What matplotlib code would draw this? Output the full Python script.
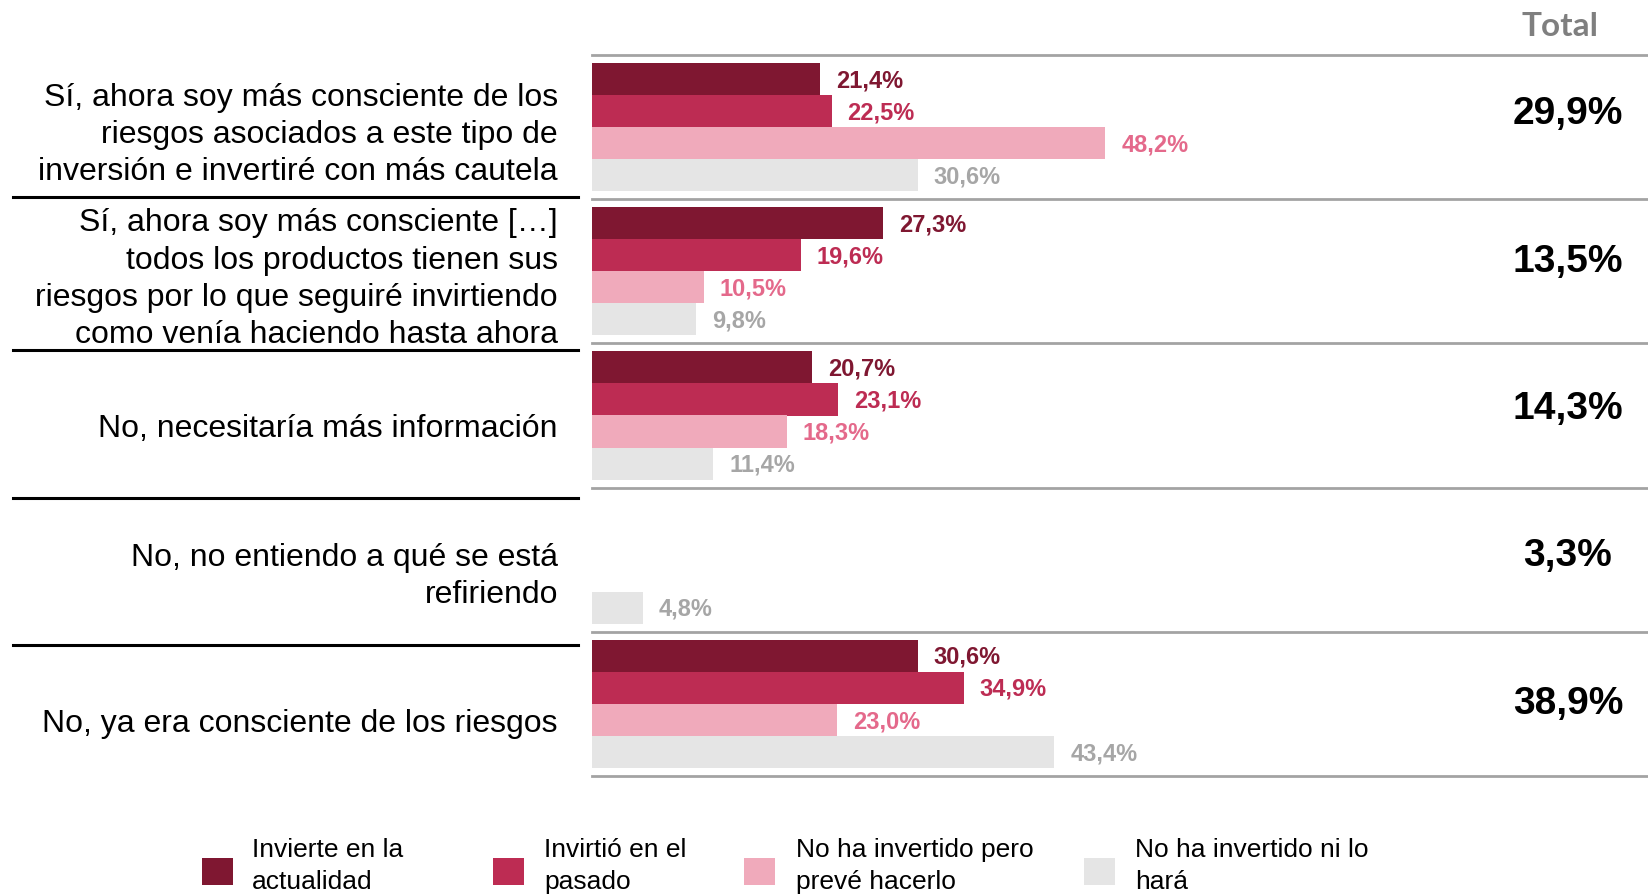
import matplotlib
matplotlib.use('Agg')
import matplotlib.pyplot as plt
import matplotlib.transforms as mtransforms
from matplotlib.lines import Line2D
from matplotlib.patches import Rectangle
import numpy as np

plt.rcParams['font.family'] = ['Liberation Sans', 'DejaVu Sans']

# Survey answers (one row per answer) and the share of each investor profile
categories = [
    'Sí, ahora soy más consciente de los\nriesgos asociados a este tipo de\ninversión e invertiré con más cautela',
    'Sí, ahora soy más consciente […]\ntodos los productos tienen sus\nriesgos por lo que seguiré invirtiendo\ncomo venía haciendo hasta ahora',
    'No, necesitaría más información',
    'No, no entiendo a qué se está\nrefiriendo',
    'No, ya era consciente de los riesgos',
]
invierte = [21.4, 27.3, 20.7, None, 30.6]
invirtio = [22.5, 19.6, 23.1, None, 34.9]
preve = [48.2, 10.5, 18.3, None, 23.0]
no_hara = [30.6, 9.8, 11.4, 4.8, 43.4]
total = [29.9, 13.5, 14.3, 3.3, 38.9]

series_names = [
    'Invierte en la\nactualidad',
    'Invirtió en el\npasado',
    'No ha invertido pero\nprevé hacerlo',
    'No ha invertido ni lo\nhará',
]
series = [invierte, invirtio, preve, no_hara]
bar_colors = ['#7f1731', '#bd2c53', '#f0aabb', '#e5e5e5']
text_colors = ['#7f1731', '#bd2c53', '#e4698b', '#a6a6a6']

W, H = 1648, 896
fig = plt.figure(figsize=(W / 100, H / 100), dpi=100)

# bar area: 0% at x=592 px, rows between y=55 and y=776 px
x0_px, top_px, bot_px = 592, 55, 776
ax = fig.add_axes([x0_px / W, 1 - bot_px / H, 1 - x0_px / W, (bot_px - top_px) / H])
px_per_pct = 10.65
ax.set_xlim(0, (W - x0_px) / px_per_pct)

group_h = 4.5          # four bars plus padding
n = len(categories)
ax.set_ylim(n * group_h, 0)
ax.axis('off')


def fmt(v):
    return f'{v:.1f}%'.replace('.', ',')


for j, (vals, bc, tc) in enumerate(zip(series, bar_colors, text_colors)):
    for i, v in enumerate(vals):
        if v is None:
            continue
        y = i * group_h + 0.75 + j
        ax.barh(y, v, height=1.0, color=bc, linewidth=0)
        ax.text(v + 1.5, y + 0.05, fmt(v), color=tc, fontsize=17,
                fontweight='bold', va='center', ha='left')

# gray separators between answer groups
for i in range(n + 1):
    ax.axhline(i * group_h, color='#a3a3a3', lw=2.0, clip_on=False)

# totals column
row_pitch = 4.6
tot_x = (1568 - x0_px) / px_per_pct
ax.text((1560 - x0_px) / px_per_pct, -0.9, 'Total', color='#7f7f7f',
        fontsize=24, fontweight='bold', family=['Lato', 'DejaVu Sans'],
        ha='center', va='center', clip_on=False)
for i, t in enumerate(total):
    ax.text(tot_x, 1.85 + i * row_pitch, fmt(t), color='black', fontsize=28,
            fontweight='bold', ha='center', va='center')

# answer labels on the left, with black rules between them
blend = mtransforms.blended_transform_factory(fig.transFigure, ax.transData)
label_y = [2.50, 7.0, 11.67, 16.28, 20.89]
for cat, y in zip(categories, label_y):
    ax.text(558 / W, y, cat, transform=blend, ha='right', va='center',
            fontsize=23, linespacing=1.32, clip_on=False)
for y in [4.42, 9.21, 13.83, 18.41]:
    ax.add_line(Line2D([13 / W, 578 / W], [y, y], transform=blend,
                       color='black', lw=2.2, clip_on=False))

# legend along the bottom
patch_x = [202, 493, 744, 1084]
text_x = [252, 544, 796, 1135]
for name, c, px, tx in zip(series_names, bar_colors, patch_x, text_x):
    fig.add_artist(Rectangle((px / W, 1 - 885 / H), 31 / W, 27 / H,
                             transform=fig.transFigure, color=c, lw=0))
    fig.text(tx / W, 1 - 866 / H, name, fontsize=19, linespacing=1.38,
             ha='left', va='center')

fig.savefig('out.png', dpi=100)
